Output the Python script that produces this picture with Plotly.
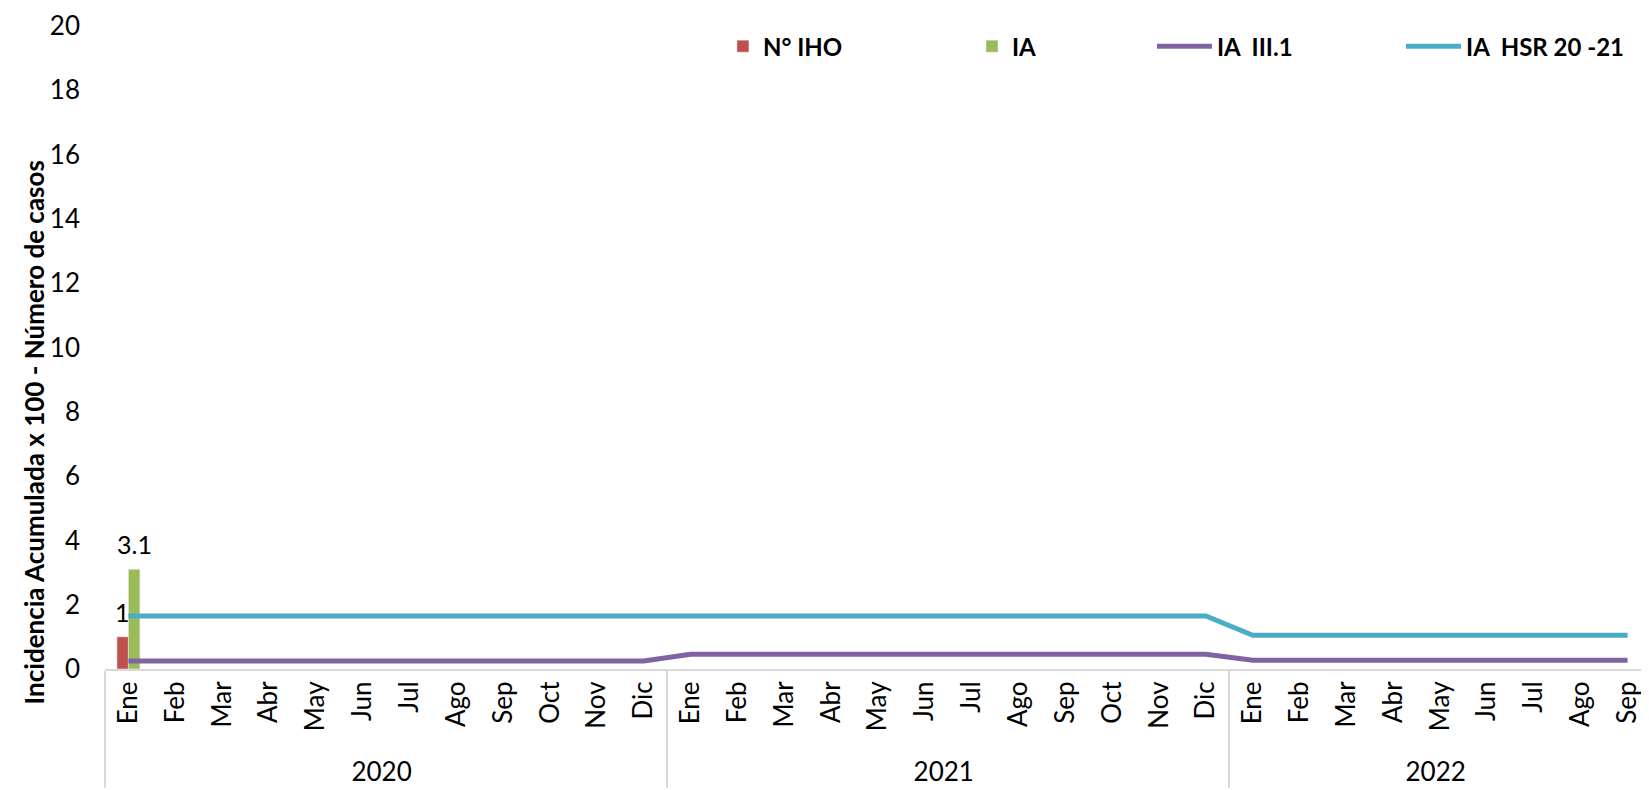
import plotly.graph_objects as go

months_2020 = ["Ene", "Feb", "Mar", "Abr", "May", "Jun", "Jul", "Ago", "Sep", "Oct", "Nov", "Dic"]
months_2021 = ["Ene", "Feb", "Mar", "Abr", "May", "Jun", "Jul", "Ago", "Sep", "Oct", "Nov", "Dic"]
months_2022 = ["Ene", "Feb", "Mar", "Abr", "May", "Jun", "Jul", "Ago", "Sep"]
years = ["2020"] * 12 + ["2021"] * 12 + ["2022"] * 9
months = months_2020 + months_2021 + months_2022

n_iho = [1] + [None] * 32
ia = [3.1] + [None] * 32
ia_iii1 = [0.25] * 12 + [0.46] * 12 + [0.27] * 9
ia_hsr = [1.65] * 24 + [1.05] * 9

y_title = "Incidencia Acumulada x 100 - Número de casos"

x = [years, months]
FONT = "Lato"

fig = go.Figure()
fig.add_trace(go.Bar(x=x, y=n_iho, name="N° IHO", marker_color="#C0504D", legend="legend"))
fig.add_trace(go.Bar(x=x, y=ia, name="IA", marker_color="#9BBB59", legend="legend2"))
fig.add_trace(go.Scatter(x=x, y=ia_iii1, name="IA  III.1", mode="lines",
                         line=dict(color="#8064A2", width=5), legend="legend3"))
fig.add_trace(go.Scatter(x=x, y=ia_hsr, name="IA  HSR 20 -21", mode="lines",
                         line=dict(color="#4BACC6", width=5), legend="legend4"))

# data labels for the non-empty bars, anchored at the bar's category and value
labels = []
for i, v in enumerate(n_iho):
    if v is not None:
        labels.append(dict(x=i, y=v, text=f"{v:g}", xshift=-6, yshift=25))
for i, v in enumerate(ia):
    if v is not None:
        labels.append(dict(x=i, y=v, text=f"{v:g}", xshift=6, yshift=25))
annotations = [dict(xref="x", yref="y", showarrow=False, xanchor="center", yanchor="middle",
                    font=dict(family=FONT, size=25, color="#000"), **a) for a in labels]
annotations.append(dict(text="<b>" + y_title + "</b>", textangle=-90,
                        xref="paper", yref="paper", x=-0.0459, y=0.368,
                        xanchor="center", yanchor="middle", showarrow=False,
                        font=dict(family=FONT, size=26, color="#000")))

leg_font = dict(family=FONT, size=24, color="#000", weight="bold")
leg_common = dict(orientation="h", xanchor="left", y=0.968, yanchor="middle",
                  font=leg_font, bgcolor="rgba(0,0,0,0)", borderwidth=0)

fig.update_layout(
    width=1649, height=790,
    paper_bgcolor="white", plot_bgcolor="white",
    margin=dict(l=97, r=6, t=18, b=129, pad=0),
    font=dict(family=FONT, size=24, color="#000"),
    barmode="group", bargap=0.51, bargroupgap=0.0,
    showlegend=True,
    legend=dict(x=0.3997, **leg_common),
    legend2=dict(x=0.5608, **leg_common),
    legend3=dict(x=0.6772, itemwidth=55, **leg_common),
    legend4=dict(x=0.8383, itemwidth=55, **leg_common),
    annotations=annotations,
)
fig.update_xaxes(type="multicategory", tickangle=-90, showline=True,
                 linecolor="#D9D9D9", linewidth=2, showgrid=False,
                 showdividers=True, dividercolor="#D9D9D9", dividerwidth=2,
                 ticks="outside", ticklen=12, tickcolor="rgba(0,0,0,0)",
                 tickfont=dict(family=FONT, size=26), automargin=False)
fig.update_yaxes(range=[0, 20], dtick=2, showgrid=False, showline=False, zeroline=False,
                 ticks="", ticklabelstandoff=24, ticklabeloverflow="allow",
                 tickfont=dict(family=FONT, size=26), automargin=False)

fig.write_html("out.html")
